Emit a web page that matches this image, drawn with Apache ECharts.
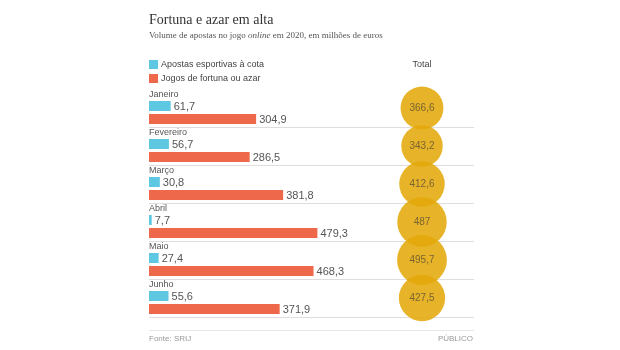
<!DOCTYPE html>
<html>
<head>
<meta charset="utf-8">
<script src="https://cdn.jsdelivr.net/npm/echarts@6/dist/echarts.min.js"></script>
<style>
  html, body { margin: 0; padding: 0; background: #fff; }
  #chart { width: 620px; height: 350px; }
</style>
</head>
<body>
<div id="chart"></div>
<script>
const months = ['Janeiro', 'Fevereiro', 'Março', 'Abril', 'Maio', 'Junho'];
const apostas = [61.7, 56.7, 30.8, 7.7, 27.4, 55.6];
const jogos = [304.9, 286.5, 381.8, 479.3, 468.3, 371.9];
const totals = [366.6, 343.2, 412.6, 487, 495.7, 427.5];
const totalLabel = ['Total'];

const BLUE = '#5ec7e2';
const ORANGE = '#ee694c';
const SANS = '"Liberation Sans", Arial, sans-serif';
const SERIF = '"Liberation Serif", "DejaVu Serif", serif';

const fmt = v => String(v).replace('.', ',');

// bar + label inside a month band; offset is from the band centre
function barRenderer(top, showMonth, showLine) {
  return function (params, api) {
    const cat = api.value(1);
    const end = api.coord([api.value(0), cat]);
    const start = api.coord([0, cat]);
    const cs = params.coordSys;
    const children = [
      {
        type: 'rect',
        shape: { x: start[0], y: end[1] + top, width: end[0] - start[0], height: 10 },
        style: { fill: api.visual('color') }
      },
      {
        type: 'text',
        x: end[0] + 3, y: end[1] + top + 5.5,
        style: { text: fmt(api.value(0)), fill: '#555', font: '11px ' + SANS, verticalAlign: 'middle' }
      }
    ];
    if (showMonth) {
      children.push({
        type: 'text',
        x: start[0], y: end[1] - 13.5,
        style: { text: months[cat], fill: '#555', font: '9px ' + SANS, verticalAlign: 'middle' }
      });
    }
    if (showLine) {
      const y = Math.round(end[1] + 19) + 0.5;
      children.push({
        type: 'line',
        shape: { x1: cs.x, y1: y, x2: cs.x + cs.width, y2: y },
        style: { stroke: '#dedede', lineWidth: 1 }
      });
    }
    return { type: 'group', children: children };
  };
}

const chart = echarts.init(document.getElementById('chart'));
chart.setOption({
  animation: false,
  title: [
    {
      text: 'Fortuna e azar em alta',
      subtext: '{a|Volume de apostas no jogo }{i|online}{a| em 2020, em milhões de euros}',
      left: 144, top: 7, itemGap: 2,
      textStyle: { fontFamily: SERIF, fontSize: 14, fontWeight: 'normal', color: '#333', lineHeight: 17 },
      subtextStyle: {
        rich: {
          a: { fontFamily: SERIF, fontSize: 9, color: '#555' },
          i: { fontFamily: SERIF, fontSize: 9, color: '#555', fontStyle: 'italic' }
        }
      }
    },
    {
      text: 'Fonte: SRIJ', left: 144, top: 330,
      textStyle: { fontFamily: SANS, fontSize: 8, fontWeight: 'normal', color: '#999' }
    },
    {
      text: 'PÚBLICO', right: 142, top: 330,
      textStyle: { fontFamily: SANS, fontSize: 8, fontWeight: 'normal', color: '#999' }
    }
  ],
  legend: {
    orient: 'vertical', left: 144, top: 55, itemWidth: 9, itemHeight: 9, itemGap: 5,
    icon: 'rect', selectedMode: false,
    textStyle: { fontFamily: SANS, fontSize: 9, color: '#444', lineHeight: 9, padding: [0, 0, 0, -2] },
    data: ['Apostas esportivas à cota', 'Jogos de fortuna ou azar']
  },
  graphic: [
    {
      type: 'line', shape: { x1: 149, y1: 330.5, x2: 474, y2: 330.5 },
      style: { stroke: '#e6e6e6', lineWidth: 1 }
    }
  ],
  grid: [
    { left: 149, width: 325, top: 89, height: 228 },
    { left: 399, width: 46, top: 89, height: 228 }
  ],
  xAxis: [
    { gridIndex: 0, type: 'value', min: 0, max: 925, show: false },
    {
      gridIndex: 1, type: 'category', data: totalLabel, position: 'top',
      axisLine: { show: false }, axisTick: { show: false },
      axisLabel: { margin: 20, fontFamily: SANS, fontSize: 9, color: '#444' }
    }
  ],
  yAxis: [
    { gridIndex: 0, type: 'category', data: months, inverse: true, show: false },
    { gridIndex: 1, type: 'category', data: months, inverse: true, show: false }
  ],
  series: [
    {
      name: 'Apostas esportivas à cota', type: 'custom', xAxisIndex: 0, yAxisIndex: 0,
      itemStyle: { color: BLUE },
      renderItem: barRenderer(-7, true, false),
      data: apostas.map((v, i) => [v, i])
    },
    {
      name: 'Jogos de fortuna ou azar', type: 'custom', xAxisIndex: 0, yAxisIndex: 0,
      itemStyle: { color: ORANGE },
      renderItem: barRenderer(6, false, true),
      data: jogos.map((v, i) => [v, i])
    },
    {
      name: 'Total', type: 'scatter', xAxisIndex: 1, yAxisIndex: 1, clip: false,
      symbolSize: v => 2.24 * Math.sqrt(v[2]),
      itemStyle: { color: '#e4a90a', opacity: 0.88 },
      label: {
        show: true, position: 'inside', formatter: p => fmt(p.value[2]),
        fontFamily: SANS, fontSize: 10, color: '#7a6432', opacity: 1
      },
      data: totals.map((v, i) => ['Total', i, v])
    }
  ]
});
</script>
</body>
</html>
